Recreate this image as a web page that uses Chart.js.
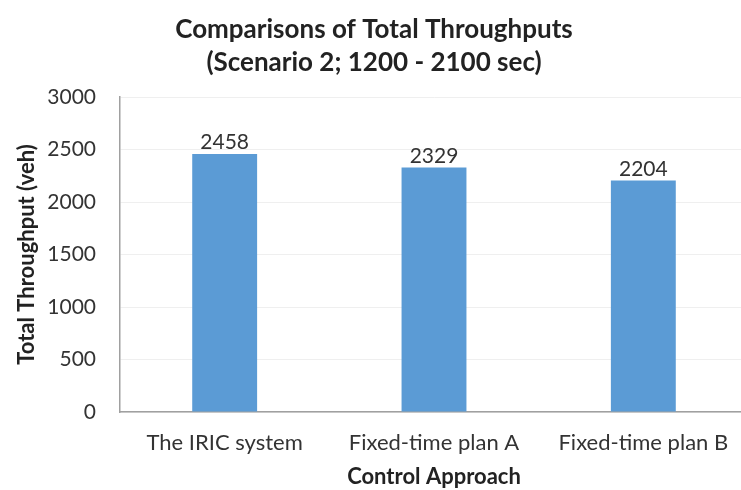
<!DOCTYPE html>
<html>
<head>
<meta charset="utf-8">
<script src="https://cdn.jsdelivr.net/npm/chart.js@4"></script>
<style>
  html, body { margin: 0; padding: 0; background: #fff; overflow: hidden; }
  #wrap { width: 750px; height: 490px; }
</style>
</head>
<body>
<div id="wrap"><canvas id="barChart"></canvas></div>
<script>
var categories = ['The IRIC system', 'Fixed-time plan A', 'Fixed-time plan B'];
var throughputs = [2458, 2329, 2204];
var yTicks = [0, 500, 1000, 1500, 2000, 2500, 3000];

var FONT = 'Lato, "Open Sans", sans-serif';

// value labels above each bar
var barLabels = {
    id: 'barLabels',
    afterDatasetsDraw: function (chart) {
        var ctx = chart.ctx;
        var meta = chart.getDatasetMeta(0);
        ctx.save();
        ctx.font = '21px ' + FONT;
        ctx.fillStyle = '#333';
        ctx.textAlign = 'center';
        ctx.textBaseline = 'bottom';
        meta.data.forEach(function (bar, i) {
            ctx.fillText(String(throughputs[i]), bar.x, bar.y - 1);
        });
        ctx.restore();
    }
};

var ctx = document.getElementById('barChart').getContext('2d');
var myChart = new Chart(ctx, {
    type: 'bar',
    data: {
        labels: categories,
        datasets: [{
            label: 'Total Throughput',
            data: throughputs,
            backgroundColor: '#5b9bd5',
            borderWidth: 0,
            barPercentage: 0.31,
            categoryPercentage: 1.0
        }]
    },
    options: {
        responsive: true,
        maintainAspectRatio: false,
        animation: false,
        layout: { padding: { left: 0, right: 2, top: 0, bottom: 0 } },
        plugins: {
            legend: { display: false },
            tooltip: { enabled: false },
            title: {
                display: true,
                text: ['Comparisons of Total Throughputs', '(Scenario 2; 1200 - 2100 sec)'],
                color: '#222',
                font: { family: FONT, size: 26, weight: 'bold', lineHeight: 1.27 },
                padding: { top: 13, bottom: 18 }
            }
        },
        scales: {
            x: {
                grid: { display: false, drawTicks: false },
                border: { display: true, color: '#a0a0a0', width: 1.5 },
                ticks: { color: '#333', font: { family: FONT, size: 22 }, padding: 18, maxRotation: 0 },
                title: {
                    display: true,
                    text: 'Control Approach',
                    color: '#222',
                    font: { family: FONT, size: 22, weight: 'bold' },
                    padding: { top: 0, bottom: 0 }
                },
                afterFit: function (s) { s.height = 78; }
            },
            y: {
                min: 0,
                max: 3000,
                afterBuildTicks: function (s) {
                    s.ticks = yTicks.map(function (v) { return { value: v }; });
                },
                grid: { color: '#efefef', drawTicks: false },
                border: { display: true, color: '#a0a0a0', width: 1.5 },
                ticks: {
                    color: '#333',
                    font: { family: FONT, size: 21 },
                    padding: 24,
                    callback: function (v) { return String(v); }
                },
                title: {
                    display: true,
                    text: 'Total Throughput (veh)',
                    color: '#222',
                    font: { family: FONT, size: 22, weight: 'bold' },
                    padding: { top: 14, bottom: 14 }
                },
                afterFit: function (s) { s.width = 120; }
            }
        }
    },
    plugins: [barLabels]
});
</script>
</body>
</html>
